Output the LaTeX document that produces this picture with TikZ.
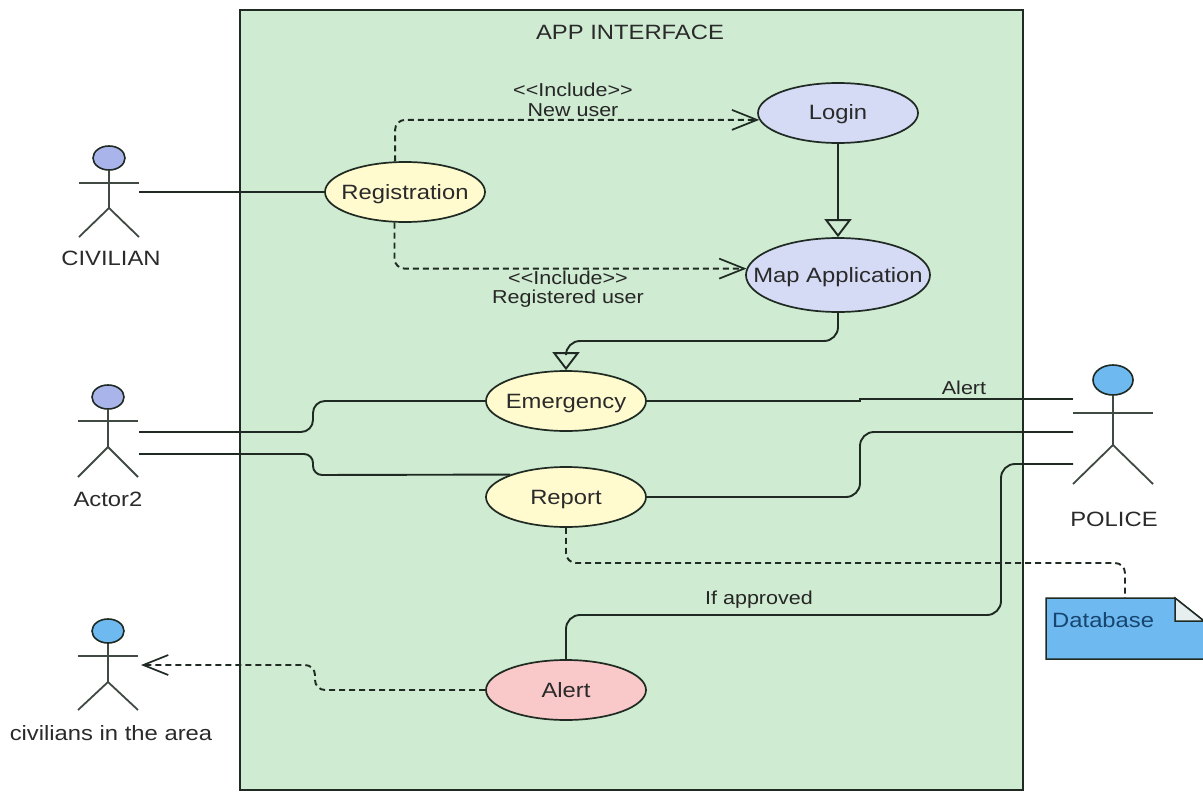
\documentclass[tikz,border=0pt]{standalone}
\usepackage{fontspec}
\setmainfont[FakeStretch=1.15,Ligatures=NoCommon]{Liberation Sans}
\usetikzlibrary{shapes.geometric,arrows.meta,calc}
\definecolor{framegreen}{HTML}{CFEBD2}
\definecolor{ucyellow}{HTML}{FFFBCF}
\definecolor{ucblue}{HTML}{D5DAF5}
\definecolor{ucpink}{HTML}{F9C8C8}
\definecolor{headviolet}{HTML}{A9B4EA}
\definecolor{headblue}{HTML}{6DB9F0}
\definecolor{linedark}{HTML}{1E2A22}
\definecolor{txtdark}{HTML}{2A2A2A}
\definecolor{notetext}{HTML}{17456F}
\definecolor{notefold}{HTML}{E6EEF0}
\newcommand{\ucfont}{\fontsize{20.7}{24}\selectfont}
\newcommand{\smfont}{\fontsize{18.7}{22}\selectfont}
\newcommand{\uctext}[1]{\makebox[0pt]{\smash{\raisebox{-7pt}{#1}}}}
\tikzset{
  usecase/.style={ellipse,draw=linedark,line width=1.7pt,inner sep=0pt,text=txtdark,font=\ucfont,minimum width=160pt,minimum height=60pt},
  conn/.style={draw=linedark,line width=1.9pt,rounded corners=14pt},
  dashconn/.style={conn,dashed,dash pattern=on 6pt off 4pt,rounded corners=10pt},
  opentip/.style={-{Straight Barb[length=25pt,width=20pt,line width=1.7pt]}},
  gentip/.style={-{Triangle[open,length=18pt,width=27pt,line width=1.9pt]}},
  actorhead/.style={ellipse,draw=linedark,line width=1.6pt,inner sep=0pt},
  limb/.style={draw=linedark!85,line width=1.8pt},
  plain/.style={inner sep=0pt,text=txtdark,font=\ucfont},
  small/.style={inner sep=0pt,text=black!85,font=\smfont},
}
\begin{document}
\begin{tikzpicture}[x=1pt,y=-1pt]
\useasboundingbox (0,0) rectangle (1203,792);
% system frame
\node[draw=linedark,line width=1.8pt,fill=framegreen,minimum width=783pt,minimum height=780pt,inner sep=0pt] (frame) at (631.5,400) {};
\node[plain] (title) at (630,32) {APP INTERFACE};

% use cases
\node[usecase,fill=ucyellow] (reg) at (405,192) {\uctext{Registration}};
\node[usecase,fill=ucblue] (login) at (838,113) {\uctext{Login}};
\node[usecase,fill=ucblue,minimum width=184pt,minimum height=74pt] (map) at (838,275) {\uctext{Map Application}};
\node[usecase,fill=ucyellow] (emer) at (566,401) {\uctext{Emergency}};
\node[usecase,fill=ucyellow] (report) at (566,497) {\uctext{Report}};
\node[usecase,fill=ucpink] (alert) at (566,690) {\uctext{Alert}};

% actors
\node[actorhead,fill=headviolet,minimum width=32pt,minimum height=24pt] (civhead) at (109,158) {};
\draw[limb] (civhead.south) -- (109,208) coordinate (civhip);
\draw[limb] (79,183) -- (139,183);
\draw[limb] (79,237) -- (civhip) -- (139,237);
\node[plain] (civlabel) at (111,258) {CIVILIAN};
\coordinate (civhand) at (139,192);

\node[actorhead,fill=headviolet,minimum width=32pt,minimum height=24pt] (acthead) at (108,397) {};
\draw[limb] (acthead.south) -- (108,447) coordinate (acthip);
\draw[limb] (78,421) -- (138,421);
\draw[limb] (78,477) -- (acthip) -- (138,477);
\node[plain] (actlabel) at (108,499) {Actor2};
\coordinate (acthandA) at (139,432);
\coordinate (acthandB) at (139,454);

\node[actorhead,fill=headblue,minimum width=32pt,minimum height=24pt] (areahead) at (108,631) {};
\draw[limb] (areahead.south) -- (108,682) coordinate (areahip);
\draw[limb] (78,656) -- (138,656);
\draw[limb] (78,710) -- (areahip) -- (138,710);
\node[plain] (arealabel) at (111,733) {civilians in the area};
\coordinate (areahand) at (141,665);

\node[actorhead,fill=headblue,minimum width=40pt,minimum height=30pt] (polhead) at (1113,380) {};
\draw[limb] (polhead.south) -- (1113,445) coordinate (polhip);
\draw[limb] (1073,413) -- (1153,413);
\draw[limb] (1073,484) -- (polhip) -- (1153,484);
\node[plain] (pollabel) at (1114,519) {POLICE};
\coordinate (polA) at (1073,399);
\coordinate (polB) at (1073,432);
\coordinate (polC) at (1073,464);

% note
\path[draw=linedark,line width=1.5pt,fill=headblue] (1046,598) -- (1175,598) -- (1204,621) -- (1204,659) -- (1046,659) -- cycle;
\path[draw=linedark,line width=1.5pt,fill=notefold] (1175,598) -- (1175,621) -- (1204,621) -- cycle;
\node[plain,text=notetext,anchor=west] (db) at (1052,620) {Database};
\coordinate (dbtop) at (1125,598);

% connectors
\draw[conn] (civhand) -- (reg.west);
\draw[dashconn,opentip] (reg.108.6) |- (login.185);
\draw[dashconn,opentip] (reg.251.4) |- (map.176);
\node[small] (incA) at (573,90) {{<}{<}Include{>}{>}};
\node[small] (newuser) at (573,110) {New user};
\node[small] (incB) at (568,278) {{<}{<}Include{>}{>}};
\node[small] (reguser) at (568,299) {Registered user};

\draw[conn,gentip] (login.south) -- (map.north);
\draw[conn,gentip] (map.south) |- (566,341) -- (emer.north);

\draw[conn,rounded corners=12pt] (acthandA) -| (313,401) -- (emer.west);
\draw[conn,rounded corners=9pt] (acthandB) -| (313,475) -- (report.158);

\draw[conn,rounded corners=0pt] (emer.east) -- (860,401) -- (860,399) -- (polA);
\node[small] (alertlabel) at (964,388) {Alert};
\draw[conn] (report.east) -| (860,432) -- (polB);
\draw[conn] (polC) -| (1001,615) -| (alert.north);
\node[small] (approved) at (759,600) {If approved};

\draw[dashconn] (report.south) |- (1125,563) -- (dbtop);
\draw[dashconn,opentip] (alert.west) -| (315,665) -- (areahand);
\end{tikzpicture}
\end{document}
